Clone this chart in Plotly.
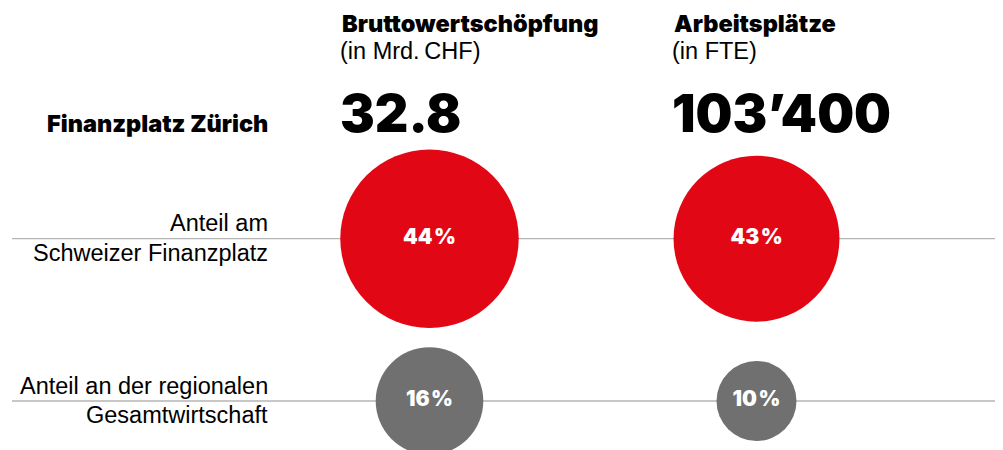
import plotly.graph_objects as go

W, H = 1003, 450
OFF = 8  # the page body adds an 8px margin; shift everything up/left by it

# data
metrics = ["Bruttowertschöpfung", "Arbeitsplätze"]
metric_units = ["(in Mrd.\u2009CHF)", "(in FTE)"]
metric_totals = ["32.8", "103’400"]
rows = ["Anteil am Schweizer Finanzplatz", "Anteil an der regionalen Gesamtwirtschaft"]
row_labels = [["Anteil am", "Schweizer Finanzplatz"], ["Anteil an der regionalen", "Gesamtwirtschaft"]]
share_swiss = [44, 43]
share_regional = [16, 10]
title = "Finanzplatz Zürich"

RED = "#e20714"
GREY = "#707070"
LINE = "#b4b4b4"
HEAVY = "Inter, Lato, sans-serif"
REG = "Liberation Sans, Arial, sans-serif"

FW, FH = W - OFF, H - OFF

# page pixel placement of the grid (column centres / row centres)
col_px = [429.5 - OFF, 756.5 - OFF]
row_px = [238.7 - OFF, 401.0 - OFF]
size_scale = [26.9, 25.3]  # marker diameter per sqrt(percent), per column


def axis_range(p0, p1, total):
    unit = p1 - p0
    return [-p0 / unit, (total - p0) / unit]


xr = axis_range(col_px[0], col_px[1], FW)
yr = axis_range(row_px[0], row_px[1], FH)

fig = go.Figure()
for ri, (row, vals, color) in enumerate([(rows[0], share_swiss, RED), (rows[1], share_regional, GREY)]):
    sizes = [size_scale[i] * v ** 0.5 for i, v in enumerate(vals)]
    fig.add_trace(go.Scatter(
        x=metrics, y=[row] * len(vals), mode="markers+text",
        marker=dict(size=sizes, color=color, line=dict(width=0), opacity=1),
        text=[f"{v}\u200a%" for v in vals], textposition="middle center",
        textfont=dict(color="white", size=21, family=HEAVY, weight=900),
        hoverinfo="skip", showlegend=False, cliponaxis=True))

# horizontal rules through each row
for ri in range(len(rows)):
    fig.add_shape(type="line", xref="paper", yref="y", x0=(12 - OFF) / FW, x1=1, y0=ri, y1=ri,
                  line=dict(color=LINE, width=1.3), layer="below")


def ann(text, px, py, anchor, size, family, weight=400, color="black"):
    # px, py are page pixel positions
    fig.add_annotation(text=text, xref="paper", yref="paper", x=(px - OFF) / FW, y=1 - (py - OFF) / FH,
                       xanchor=anchor, yanchor="middle", showarrow=False,
                       font=dict(size=size, family=family, weight=weight, color=color))


head_x = [340, 672]
for i in range(len(metrics)):
    ann(metrics[i], head_x[i], 24, "left", 23.5, HEAVY, 900)
    ann(metric_units[i], head_x[i] - 2, 51, "left", 23.5, REG)
    ann(metric_totals[i], head_x[i] - 2, 113, "left", 52, HEAVY, 900)

ann(title, 270, 124, "right", 23.5, HEAVY, 900)
label_py = [[223, 252.5], [386, 415]]
for ri in range(len(rows)):
    for li, line in enumerate(row_labels[ri]):
        ann(line, 270, label_py[ri][li], "right", 23.5, REG)

fig.update_xaxes(type="category", range=xr, visible=False, fixedrange=True)
fig.update_yaxes(type="category", range=[yr[1], yr[0]], visible=False, fixedrange=True)
fig.update_layout(width=FW, height=FH, margin=dict(l=0, r=0, t=0, b=0, pad=0),
                  paper_bgcolor="white", plot_bgcolor="white")
fig.write_html("out.html")
